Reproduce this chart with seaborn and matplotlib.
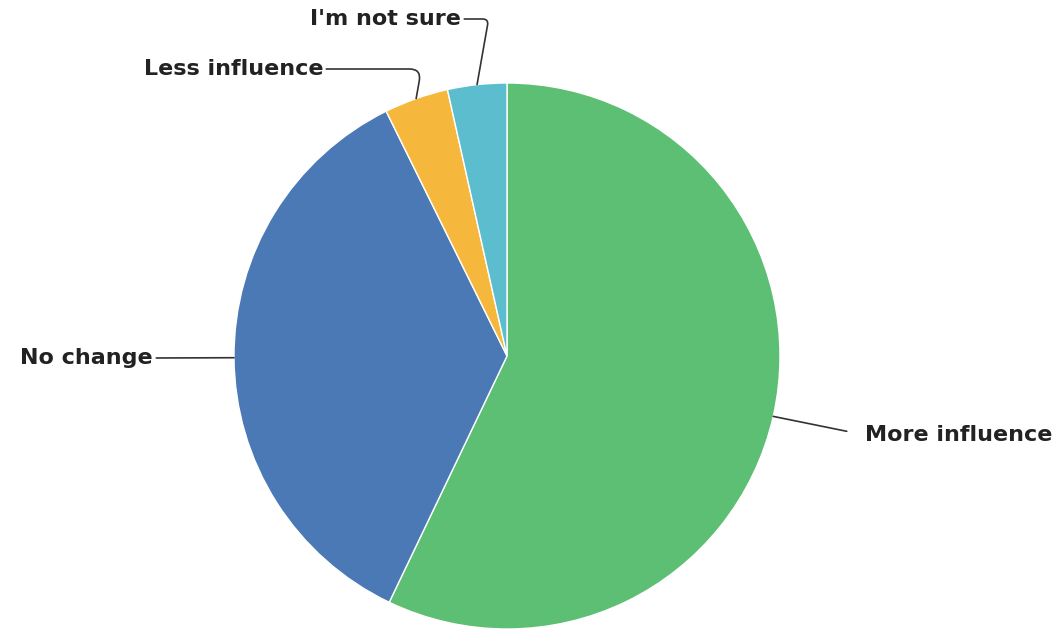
import numpy as np
import seaborn as sns
import matplotlib.pyplot as plt

# Survey answers (share of respondents, %)
categories = ['More influence', 'No change', 'Less influence', "I'm not sure"]
shares = [57.1, 35.6, 3.8, 3.5]
colors = ['#5cbf73', '#4b79b6', '#f6b83c', '#5cbdcf']

sns.set_theme(style='white')
plt.rcParams['font.family'] = ['DejaVu Sans']

W, H = 1061, 630
fig = plt.figure(figsize=(W / 100, H / 100), dpi=100)
ax = fig.add_axes([0, 0, 1, 1])

# pie drawn in pixel-like coordinates
center = (507, 274)
radius = 273
wedges, _ = ax.pie(shares, colors=colors, startangle=90, counterclock=False,
                   center=center, radius=radius, frame=True,
                   wedgeprops=dict(edgecolor='white', linewidth=1))
ax.set_xlim(0, W)
ax.set_ylim(0, H)
ax.set_aspect('equal')
ax.axis('off')

# label placement: text anchor, alignment, connection style
label_pos = {
    'More influence': ((865, 195), 'left', 'arc3'),
    'No change': ((153, 272), 'right', 'arc3'),
    'Less influence': ((323, 561), 'right', 'angle,angleA=0,angleB=80,rad=12'),
    "I'm not sure": ((461, 611), 'right', 'angle,angleA=0,angleB=80,rad=6'),
}

for w, name in zip(wedges, categories):
    mid = np.deg2rad((w.theta1 + w.theta2) / 2)
    px = center[0] + radius * np.cos(mid)
    py = center[1] + radius * np.sin(mid)
    (tx, ty), ha, conn = label_pos[name]
    relpos = (0, 0.5) if ha == 'left' else (1, 0.5)
    shrink = 11 if ha == 'left' else 0
    ax.annotate(name, xy=(px, py), xytext=(tx, ty), ha=ha, va='center',
                fontsize=16, fontweight='bold', color='#222222',
                arrowprops=dict(arrowstyle='-', color='#333333', lw=1.2,
                                connectionstyle=conn, relpos=relpos,
                                shrinkA=shrink, shrinkB=0))

fig.savefig('out.png', dpi=100)
